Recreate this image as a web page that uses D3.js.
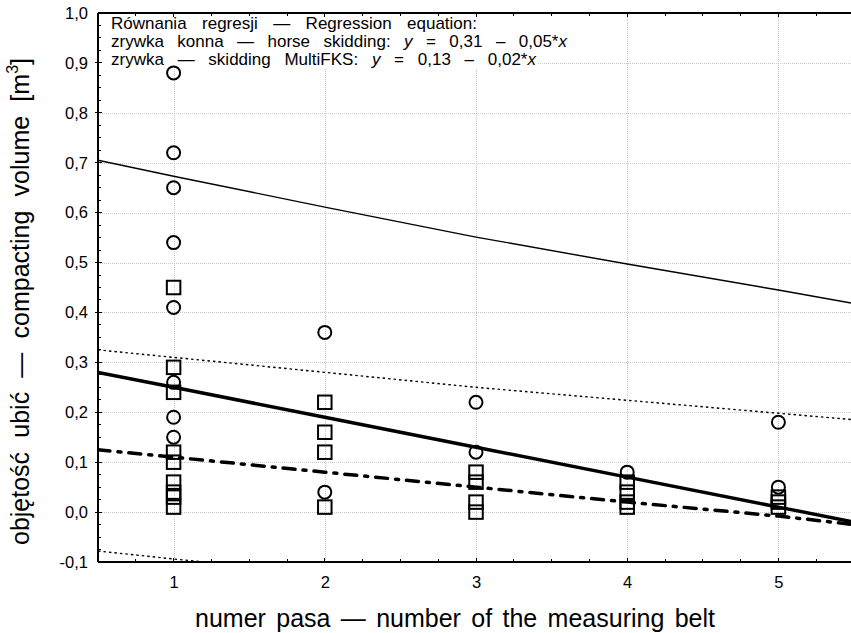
<!DOCTYPE html>
<html>
<head>
<meta charset="utf-8">
<script src="https://cdn.jsdelivr.net/npm/d3@7"></script>
<style>
  html, body { margin: 0; padding: 0; background: #fff; }
  svg { display: block; font-family: "Liberation Sans", Arial, sans-serif; }
</style>
</head>
<body>
<svg id="chart" width="851" height="633"></svg>
<script>
// Measuring belts along the skid trail
const belts = [1, 2, 3, 4, 5];
const xTickLabels = ["1", "2", "3", "4", "5"];
const yTicks = [-0.1, 0, 0.1, 0.2, 0.3, 0.4, 0.5, 0.6, 0.7, 0.8, 0.9, 1.0];

// Compacting volume [m3] — horse skidding (circles)
const horseBelt  = [1, 1, 1, 1, 1, 1, 1, 1, 2, 2, 3, 3, 4, 5, 5];
const horseValue = [0.88, 0.72, 0.65, 0.54, 0.41, 0.26, 0.19, 0.15, 0.36, 0.04, 0.22, 0.12, 0.08, 0.18, 0.05];

// Compacting volume [m3] — MultiFKS skidding (squares)
const fksBelt  = [1, 1, 1, 1, 1, 1, 1, 1, 1, 2, 2, 2, 2, 3, 3, 3, 3, 4, 4, 4, 4, 5, 5, 5];
const fksValue = [0.45, 0.29, 0.24, 0.12, 0.10, 0.06, 0.04, 0.03, 0.01, 0.22, 0.16, 0.12, 0.01, 0.08, 0.06, 0.02, 0.00, 0.06, 0.04, 0.02, 0.01, 0.03, 0.02, 0.01];

// Fitted regression lines and bands (x, y)
const bandX        = [0.5, 1, 2, 3, 4, 5, 5.5];
const horseFit     = [0.28, 0.25, 0.19, 0.13, 0.07, 0.01, -0.02];
const horseUpper   = [0.705, 0.673, 0.611, 0.551, 0.497, 0.445, 0.418];
const fksFit       = [0.125, 0.11, 0.08, 0.05, 0.02, -0.008, -0.025];
const fksUpper     = [0.325, 0.31, 0.28, 0.25, 0.224, 0.198, 0.185];
const fksLowerX    = [0.5, 1, 1.5];
const fksLower     = [-0.078, -0.094, -0.108];

const legendLines = [
  [{t: "Równania regresji — Regression equation:"}],
  [{t: "zrywka konna — horse skidding: "}, {t: "y", i: true}, {t: " = 0,31 – 0,05*"}, {t: "x", i: true}],
  [{t: "zrywka — skidding MultiFKS: "}, {t: "y", i: true}, {t: " = 0,13 – 0,02*"}, {t: "x", i: true}]
];
const legendWidths = [366, 456, 425];
const xTitle = "numer pasa — number of the measuring belt";
const yTitle = "objętość ubić — compacting volume [m";

const svg = d3.select("#chart");
const pL = 98, pR = 854, pT = 13, pB = 562;

const x = d3.scaleLinear().domain([0.5, 5.5]).range([pL, pR]);
const y = d3.scaleLinear().domain([-0.1, 1.0]).range([pB, pT]);

const fmt = v => d3.format(".1f")(v).replace(".", ",").replace("−", "-");

// spread the words of a text element so that it spans the given width
function fitWords(sel, width) {
  sel.each(function() {
    const n = (this.textContent.match(/ /g) || []).length;
    const w0 = this.getComputedTextLength();
    if (n > 0) d3.select(this).attr("word-spacing", Math.max(0, (width - w0) / n));
  });
}

// clip region for plot contents
svg.append("clipPath").attr("id", "plot").append("rect")
  .attr("x", pL).attr("y", pT).attr("width", pR - pL).attr("height", pB - pT);

// grid
const grid = svg.append("g").attr("stroke", "#c8c8c8").attr("stroke-width", 1)
  .attr("stroke-dasharray", "1,1").attr("shape-rendering", "crispEdges");
grid.selectAll("line.h").data(yTicks.filter(v => v > -0.1 && v < 1.0)).join("line").attr("class", "h")
  .attr("x1", pL).attr("x2", pR).attr("y1", d => Math.round(y(d)) + 0.5).attr("y2", d => Math.round(y(d)) + 0.5);
grid.selectAll("line.v").data(belts).join("line").attr("class", "v")
  .attr("y1", pT).attr("y2", pB).attr("x1", d => Math.round(x(d)) + 0.5).attr("x2", d => Math.round(x(d)) + 0.5);

// legend panel
const legend = svg.append("g");
legend.append("rect").attr("x", pL + 1).attr("y", pT + 1).attr("width", 438).attr("height", 54).attr("fill", "#fff");
legend.selectAll("text").data(legendLines).join("text")
  .attr("x", 111).attr("y", (d, i) => 29 + i * 18)
  .attr("font-size", 17).attr("fill", "#000")
  .each(function(parts, i) {
    const t = d3.select(this);
    parts.forEach(p => t.append("tspan").text(p.t).attr("font-style", p.i ? "italic" : null));
    fitWords(t, legendWidths[i]);
  });

// lines
const line = d3.line().x(d => x(d[0])).y(d => y(d[1]));
const plot = svg.append("g").attr("clip-path", "url(#plot)").attr("fill", "none").attr("stroke", "#000");
plot.append("path").attr("d", line(d3.zip(bandX, horseUpper))).attr("stroke-width", 1.4);
plot.append("path").attr("d", line(d3.zip(bandX, fksUpper))).attr("stroke-width", 1.4).attr("stroke-dasharray", "2.5,3");
plot.append("path").attr("d", line(d3.zip(fksLowerX, fksLower))).attr("stroke-width", 1.4).attr("stroke-dasharray", "2.5,3");
plot.append("path").attr("d", line(d3.zip(bandX, horseFit))).attr("stroke-width", 3.5);
plot.append("path").attr("d", line(d3.zip(bandX, fksFit))).attr("stroke-width", 3.5)
  .attr("stroke-dasharray", "12,8,3,8").attr("stroke-linecap", "round");

// points
const pts = svg.append("g").attr("fill", "none").attr("stroke", "#000").attr("stroke-width", 2);
pts.selectAll("rect").data(d3.zip(fksBelt, fksValue)).join("rect")
  .attr("x", d => x(d[0]) - 6.75).attr("y", d => y(d[1]) - 6.75).attr("width", 13.5).attr("height", 13.5);
pts.selectAll("circle").data(d3.zip(horseBelt, horseValue)).join("circle")
  .attr("cx", d => x(d[0])).attr("cy", d => y(d[1])).attr("r", 6.5);

// axes frame
const axes = svg.append("g").attr("stroke", "#000").attr("shape-rendering", "crispEdges");
axes.append("line").attr("x1", pL).attr("x2", pL).attr("y1", pT).attr("y2", pB).attr("stroke-width", 2);
axes.append("line").attr("x1", pL).attr("x2", pR).attr("y1", pB).attr("y2", pB).attr("stroke-width", 2);
axes.append("line").attr("x1", pL).attr("x2", pR).attr("y1", pT).attr("y2", pT).attr("stroke-width", 2);

const xMinor = d3.range(0.75, 5.5, 0.25);
const yMinor = d3.range(-0.075, 1.0, 0.025);
xMinor.forEach(v => {
  const major = Math.abs(v - Math.round(v)) < 1e-6;
  const len = major ? 4 : 3;
  axes.append("line").attr("x1", x(v)).attr("x2", x(v)).attr("y1", pB).attr("y2", pB - len);
  axes.append("line").attr("x1", x(v)).attr("x2", x(v)).attr("y1", pT).attr("y2", pT + len);
});
yMinor.forEach(v => {
  const major = Math.abs(v * 10 - Math.round(v * 10)) < 1e-6;
  axes.append("line").attr("x1", pL - (major ? 3 : 0)).attr("x2", pL + (major ? 4 : 3))
    .attr("y1", y(v)).attr("y2", y(v));
});

// tick labels via d3 axes
const yAxis = svg.append("g").attr("transform", `translate(${pL},0)`)
  .call(d3.axisLeft(y).tickValues(yTicks).tickFormat(fmt).tickSize(0).tickPadding(10));
yAxis.select(".domain").remove();
yAxis.selectAll("text").attr("font-size", 16.5).attr("font-family", "Liberation Sans, Arial, sans-serif").attr("fill", "#000");

const xAxis = svg.append("g").attr("transform", `translate(0,${pB})`)
  .call(d3.axisBottom(x).tickValues(belts).tickFormat((d, i) => xTickLabels[i]).tickSize(0).tickPadding(14));
xAxis.select(".domain").remove();
xAxis.selectAll("text").attr("font-size", 16.5).attr("font-family", "Liberation Sans, Arial, sans-serif").attr("fill", "#000");

// titles
const xt = svg.append("text").attr("x", 195).attr("y", 627)
  .attr("font-size", 25).text(xTitle);
fitWords(xt, 520);
const yt = svg.append("text").attr("transform", "translate(29,545) rotate(-90)")
  .attr("font-size", 25);
yt.append("tspan").text(yTitle);
yt.append("tspan").attr("font-size", 16).attr("dy", -11).text("3");
yt.append("tspan").attr("dy", 11).text("]");
fitWords(yt, 487);
</script>
</body>
</html>
